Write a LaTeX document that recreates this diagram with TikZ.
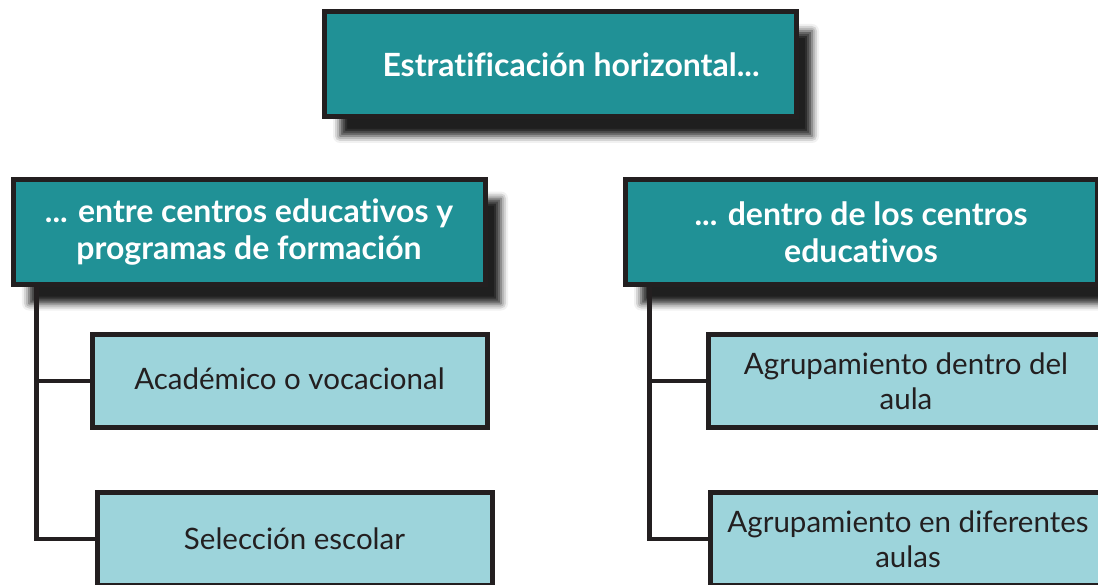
\documentclass[tikz,border=0pt]{standalone}
\usepackage{fontspec}
\setmainfont{Lato}[Ligatures=NoCommon]
\usepackage{tikz}
\usetikzlibrary{positioning, calc, shadows.blur}
\definecolor{teal}{HTML}{209196}
\definecolor{lightteal}{HTML}{9DD4DB}
\definecolor{ink}{HTML}{231F20}
\tikzset{
	headbox/.style={draw=ink, line width=5pt, fill=teal, text=white, font=\fontsize{32}{37}\selectfont\bfseries, align=center, minimum width=472pt, minimum height=105pt, inner sep=0pt,
		blur shadow={shadow xshift=16pt, shadow yshift=-19pt, shadow blur radius=7pt, shadow opacity=88}},
	leafbox/.style={draw=ink, line width=5pt, fill=lightteal, text=ink, font=\fontsize{29.5}{35}\selectfont, align=center, minimum width=395pt, minimum height=93pt, inner sep=0pt},
	link/.style={draw=ink, line width=4.5pt}
}

\begin{document}
\begin{tikzpicture}[x=1pt, y=-1pt]
\useasboundingbox (0,0) rectangle (1098,585);

% Draw heading boxes
\node[headbox] (top) at (560,64.5) {\hspace*{22pt}Estratificación horizontal...};
\node[headbox] (lh) at (249,232) {... entre centros educativos y\\programas de formación};
\node[headbox] (rh) at (861,232) {... dentro de los centros\\educativos};

% Draw leaf boxes
\node[leafbox] (la) at (289.5,381) {\raisebox{5pt}{Académico o vocacional}};
\node[leafbox] (lb) at (294.5,539) {Selección escolar};
\node[leafbox] (ra) at (906,381) {Agrupamiento dentro del\\aula};
\node[leafbox] (rb) at (908,539) {Agrupamiento en diferentes\\aulas};

% Draw links
\draw[link] ([xshift=26pt]lh.south west) |- (la.west);
\draw[link] ([xshift=26pt]lh.south west) |- (lb.west);
\draw[link] ([xshift=27pt]rh.south west) |- (ra.west);
\draw[link] ([xshift=27pt]rh.south west) |- (rb.west);
\end{tikzpicture}
\end{document}
